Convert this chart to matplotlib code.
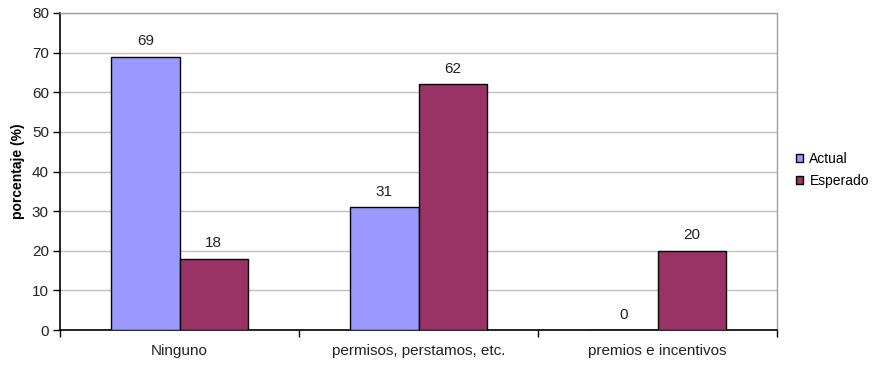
import matplotlib
matplotlib.use("Agg")
import matplotlib.pyplot as plt
import numpy as np

plt.rcParams['font.family'] = ['Liberation Sans', 'DejaVu Sans']

categories = ["Ninguno", "permisos, perstamos, etc.", "premios e incentivos"]
series_names = ["Actual", "Esperado"]
actual = [69, 31, 0]
esperado = [18, 62, 20]
y_ticks = [0, 10, 20, 30, 40, 50, 60, 70, 80]

colors = ["#9999FF", "#993366"]

fig = plt.figure(figsize=(8.72, 3.65), dpi=100)
ax = fig.add_axes([60 / 872, 35 / 365, 717 / 872, 317 / 365])

x = np.arange(len(categories))
w = 1 / 3.5  # gap width 150%
for i, (vals, name, c) in enumerate(zip([actual, esperado], series_names, colors)):
    pos = x + (i - 0.5) * w
    ax.bar(pos, vals, width=w, color=c, edgecolor="black", linewidth=1.0,
           label=name, zorder=3)
    for p, v in zip(pos, vals):
        ax.annotate(f"{v}", (p, v), xytext=(0, 6), textcoords="offset points",
                    ha="center", va="bottom", fontsize=11, color="#222222")

ax.set_xlim(-0.5, len(categories) - 0.5)
ax.set_ylim(0, 80)
ax.set_yticks(y_ticks)
ax.yaxis.grid(True, color="#c0c0c0", linewidth=1.0, zorder=0)
ax.set_axisbelow(True)

# category ticks sit between groups, labels centered under groups
ax.set_xticks(np.arange(-0.5, len(categories)), minor=False)
ax.set_xticklabels([])
ax.set_xticks(x, minor=True)
ax.set_xticklabels(categories, minor=True, fontsize=11, color="#222222")
ax.tick_params(axis="x", which="minor", length=0, pad=10)
ax.tick_params(axis="x", which="major", length=5, width=1, direction="out")
ax.tick_params(axis="y", length=5, width=1, direction="out", labelsize=11,
               labelcolor="#222222", pad=3)

for s in ["top", "right"]:
    ax.spines[s].set_color("#a0a0a0")
    ax.spines[s].set_linewidth(1.0)
for s in ["left", "bottom"]:
    ax.spines[s].set_color("black")
    ax.spines[s].set_linewidth(1.2)

fig.text(18 / 872, (365 - 171) / 365, "porcentaje (%)", rotation=90,
         ha="center", va="center", fontsize=10, fontweight="bold")

leg = fig.legend(loc="center left", bbox_to_anchor=(783 / 872, (365 - 170) / 365),
                 frameon=False, fontsize=10, handlelength=0.55, handleheight=0.55,
                 handletextpad=0.45, labelspacing=0.6)

fig.savefig("out.png", dpi=100)
